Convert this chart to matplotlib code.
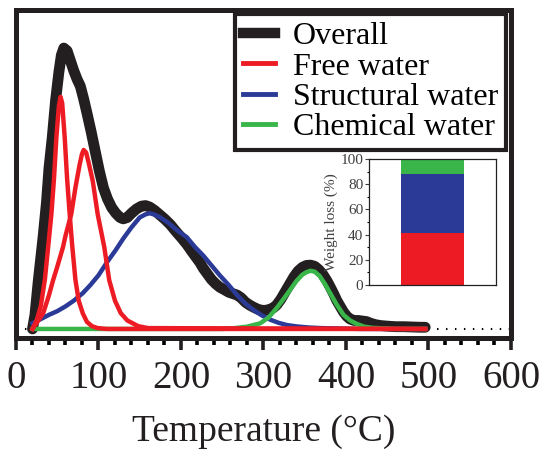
import matplotlib
matplotlib.use("Agg")
import matplotlib.pyplot as plt

plt.rcParams['font.family'] = ['Liberation Serif', 'DejaVu Serif']

# Overall DTG-like curve
overall_T = [20, 23, 27, 30, 33, 37, 40, 44, 48, 52, 55, 58, 62, 66, 70, 74, 78, 82, 86, 91,
             96, 101, 106, 111, 116, 121, 126, 130, 135, 140, 146, 152, 157, 162, 168, 174, 180, 187, 194, 200,
             207, 213, 218, 223, 227, 232, 237, 242, 247, 252, 258, 263, 268, 273, 278, 283, 288, 293, 298, 303,
             308, 312, 316, 321, 326, 332, 337, 342, 347, 352, 357, 362, 367, 372, 377, 381, 385, 389, 393, 397,
             401, 405, 410, 415, 420, 425, 430, 436, 442, 450, 460, 470, 480, 490, 496]
overall_y = [0.0, 0.05, 0.17, 0.25, 0.33, 0.45, 0.57, 0.68, 0.81, 0.91, 0.97, 0.995, 0.985, 0.95, 0.915, 0.885, 0.86, 0.815, 0.765, 0.70,
             0.63, 0.56, 0.50, 0.46, 0.43, 0.41, 0.395, 0.39, 0.395, 0.41, 0.425, 0.435, 0.437, 0.432, 0.42, 0.405, 0.39, 0.37, 0.345, 0.325,
             0.30, 0.275, 0.255, 0.235, 0.215, 0.195, 0.175, 0.16, 0.148, 0.14, 0.13, 0.125, 0.12, 0.11, 0.095, 0.085, 0.077, 0.07, 0.066, 0.066,
             0.07, 0.075, 0.085, 0.105, 0.13, 0.16, 0.185, 0.205, 0.218, 0.225, 0.226, 0.222, 0.21, 0.193, 0.17, 0.148, 0.125, 0.10, 0.08, 0.06,
             0.045, 0.035, 0.03, 0.03, 0.028, 0.026, 0.02, 0.015, 0.012, 0.01, 0.008, 0.008, 0.007, 0.006, 0.006]

# free water, two peaks
free1_T = [20, 25, 30, 35, 40, 43, 46, 49, 52, 54, 56, 59, 62, 65, 68, 72, 76, 81, 86, 92, 99, 110, 496]
free1_y = [0.0, 0.03, 0.08, 0.175, 0.32, 0.41, 0.53, 0.68, 0.79, 0.822, 0.80, 0.68, 0.53, 0.41, 0.30, 0.175, 0.10, 0.055, 0.025, 0.01, 0.003, 0.0, 0.0]
free2_T = [20, 27, 33, 40, 45, 50, 57, 60, 67, 72, 77, 80, 82, 85, 88, 93, 99, 107, 113, 120, 127, 135, 148, 160, 496]
free2_y = [0.0, 0.03, 0.056, 0.12, 0.173, 0.22, 0.29, 0.33, 0.407, 0.50, 0.58, 0.62, 0.634, 0.625, 0.59, 0.525, 0.407, 0.29, 0.173, 0.10, 0.056, 0.03, 0.01, 0.003, 0.0]

# structural water
struct_T = [20, 30, 40, 50, 60, 70, 81, 90, 100, 110, 121, 130, 140, 150, 157, 162, 168, 175, 185, 195,
            207, 217, 227, 237, 247, 258, 268, 278, 288, 298, 308, 318, 328, 340, 355, 370, 385, 400, 420, 450, 496]
struct_y = [0.02, 0.035, 0.05, 0.063, 0.08, 0.10, 0.127, 0.155, 0.19, 0.235, 0.28, 0.32, 0.36, 0.395, 0.406, 0.41, 0.405, 0.395, 0.375, 0.35,
            0.325, 0.29, 0.26, 0.225, 0.19, 0.155, 0.12, 0.09, 0.067, 0.048, 0.033, 0.022, 0.014, 0.009, 0.005, 0.003, 0.002, 0.001, 0.0, 0.0, 0.0]

# chemical water
chem_T = [20, 250, 265, 280, 296, 306, 316, 324, 332, 340, 347, 352, 357, 362, 368, 375, 381, 389, 397, 405, 413, 422, 432, 445, 460, 496]
chem_y = [0.0, 0.0, 0.003, 0.008, 0.02, 0.04, 0.074, 0.105, 0.137, 0.17, 0.192, 0.201, 0.206, 0.203, 0.188, 0.157, 0.126, 0.085, 0.05, 0.03, 0.018, 0.008, 0.004, 0.002, 0.0, 0.0]

# inset: share of weight loss (%)
share_labels = ['Free water', 'Structural water', 'Chemical water']
share_values = [41, 47, 12]

c_black = '#231f20'
c_red = '#ed1c24'
c_blue = '#2b3a97'
c_green = '#39b54a'

fig = plt.figure(figsize=(5.44, 4.53), dpi=100)
ax = fig.add_axes([0.0294, 0.2539, 0.9099, 0.7241])

ax.plot([0, 600], [0, 0], color='black', lw=1.5, ls=(0, (0.7, 3.6)), zorder=1)
ax.plot(overall_T, overall_y, color=c_black, lw=7.8, solid_joinstyle='round', solid_capstyle='round', zorder=2)
ax.plot(struct_T, struct_y, color=c_blue, lw=3.2, solid_joinstyle='round', zorder=3)
ax.plot(chem_T, chem_y, color=c_green, lw=3.2, solid_joinstyle='round', zorder=4)
ax.plot(free2_T, free2_y, color=c_red, lw=3.2, solid_joinstyle='round', zorder=5)
ax.plot(free1_T, free1_y, color=c_red, lw=3.2, solid_joinstyle='round', zorder=5)

# legend handles
h_all, = ax.plot([], [], color=c_black, lw=7.5)
h_free, = ax.plot([], [], color=c_red, lw=3.5)
h_str, = ax.plot([], [], color=c_blue, lw=3.5)
h_chem, = ax.plot([], [], color=c_green, lw=3.5)
leg = ax.legend([h_all, h_free, h_str, h_chem], ['Overall'] + share_labels,
                loc='upper right', bbox_to_anchor=(0.99, 0.988), borderaxespad=0,
                fontsize=23, frameon=True, fancybox=False, framealpha=1,
                handlelength=1.0, handletextpad=0.55, labelspacing=0.03, borderpad=0.25)
leg.get_frame().set_edgecolor(c_black)
leg.get_frame().set_linewidth(3.0)

ax.set_xlim(0, 600)
ax.set_ylim(-0.032, 1.13)
ax.set_xticks(range(0, 601, 100))
ax.set_xticks(range(0, 601, 20), minor=True)
ax.set_yticks([])
ax.tick_params(axis='x', which='major', direction='out', length=8.5, width=2.6, labelsize=28, pad=7, colors=c_black)
ax.tick_params(axis='x', which='minor', direction='out', length=5, width=2.6)
for s in ax.spines.values():
    s.set_linewidth(3.6)
    s.set_color(c_black)
ax.set_xlabel('Temperature (°C)', fontsize=27, labelpad=13, color=c_black)

# inset stacked bar
ins = fig.add_axes([0.6783, 0.3709, 0.2335, 0.2782])
colors = [c_red, c_blue, c_green]
bottom = 0
for v, c in zip(share_values, colors):
    ins.bar(0, v, width=0.5, bottom=bottom, color=c)
    bottom += v
ins.set_xlim(-0.5, 0.5)
ins.set_ylim(0, 100)
ins.set_xticks([])
ins.set_yticks(range(0, 101, 20))
ins.set_yticks(range(0, 101, 10), minor=True)
ins.tick_params(axis='y', which='major', direction='out', length=3, width=0.8, labelsize=11, pad=1, colors='#404040')
ins.tick_params(axis='y', which='minor', direction='out', length=1.5, width=0.8)
for s in ins.spines.values():
    s.set_linewidth(0.9)
    s.set_color('#202020')
ins.set_ylabel('Weight loss (%)', fontsize=11, color='#404040', labelpad=2)

fig.savefig('out.png', dpi=100)
